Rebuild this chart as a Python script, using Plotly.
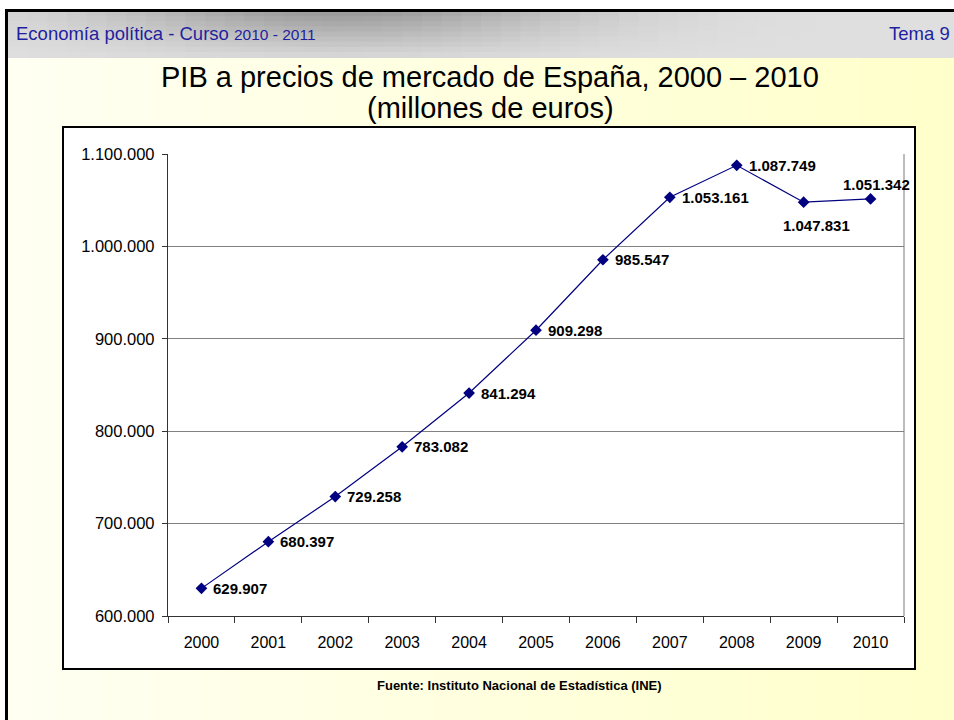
import math
import plotly.graph_objects as go

# ---------------- data ----------------
years = ["2000", "2001", "2002", "2003", "2004", "2005",
         "2006", "2007", "2008", "2009", "2010"]
pib = [629907, 680397, 729258, 783082, 841294, 909298,
       985547, 1053161, 1087749, 1047831, 1051342]
y_ticks = [600000, 700000, 800000, 900000, 1000000, 1100000]

title_1 = "PIB a precios de mercado de España, 2000 – 2010"
title_2 = "(millones de euros)"
header_left = "Economía política - Curso "
header_years = "2010 - 2011"
header_right = "Tema 9"
source = "Fuente: Instituto Nacional de Estadística (INE)"

# label placement style (right of point, except 2009 below and 2010 above)
label_place = ["right"] * 9 + ["below", "above"]

W, H = 954, 720
ML, MR, MT, MB = 168, 50, 154, 104
PW, PH = W - ML - MR, H - MT - MB
FONT = "Liberation Sans, Arial, sans-serif"


def fx(x):
    return (x - ML) / PW


def fy(y):
    return (H - MB - y) / PH


labels = [f"{v:,}".replace(",", ".") for v in pib]

fig = go.Figure()
fig.add_trace(go.Scatter(
    x=years, y=pib, mode="lines+markers",
    line=dict(color="#000080", width=1.2),
    marker=dict(symbol="diamond", size=9, color="#000080"),
    cliponaxis=False, hoverinfo="skip", showlegend=False,
))

shapes = []
# slide background gradient (light yellow)
n = 40
for i in range(n):
    x0 = 8 + (W - 8) * i / n
    x1 = 8 + (W - 8) * (i + 1) / n + 1
    t = i / (n - 1)
    b = int(242 - 38 * t)
    shapes.append(dict(type="rect", xref="paper", yref="paper", layer="below",
                       x0=fx(x0), x1=fx(x1), y0=fy(H), y1=fy(57),
                       fillcolor=f"rgb(255,255,{b})", line_width=0))
# header gradient (grey)
nx, ny = 48, 9
for i in range(nx):
    for j in range(ny):
        x0 = 8 + (W - 8) * i / nx
        x1 = 8 + (W - 8) * (i + 1) / nx + 1
        y0 = 11 + 46 * j / ny
        y1 = 11 + 46 * (j + 1) / ny + 1
        xc = (x0 + x1) / 2
        yc = (y0 + y1) / 2
        dark = 72 * math.exp(-((xc - 340) / 240) ** 2) * (1 - 0.9 * (yc - 11) / 46)
        c = int(224 - dark)
        shapes.append(dict(type="rect", xref="paper", yref="paper", layer="below",
                           x0=fx(x0), x1=fx(x1), y0=fy(y1), y1=fy(y0),
                           fillcolor=f"rgb({c},{c},{c})", line_width=0))
# black slide borders
shapes.append(dict(type="rect", xref="paper", yref="paper", layer="below",
                   x0=fx(5), x1=fx(W), y0=fy(12), y1=fy(9),
                   fillcolor="black", line_width=0))
shapes.append(dict(type="rect", xref="paper", yref="paper", layer="below",
                   x0=fx(5), x1=fx(8), y0=fy(H), y1=fy(9),
                   fillcolor="black", line_width=0))
# chart box
shapes.append(dict(type="rect", xref="paper", yref="paper", layer="below",
                   x0=fx(63), x1=fx(915), y0=fy(669), y1=fy(127),
                   fillcolor="white", line=dict(color="black", width=2)))
# plot area right border
shapes.append(dict(type="line", xref="x domain", yref="y domain", layer="below",
                   x0=1, x1=1, y0=0, y1=1,
                   line=dict(color="#a6a6a6", width=1.5)))

annotations = [
    dict(text=title_1, x=fx(490), y=fy(77), xref="paper", yref="paper",
         showarrow=False, xanchor="center", yanchor="middle",
         font=dict(family=FONT, size=29, color="black")),
    dict(text=title_2, x=fx(490), y=fy(108), xref="paper", yref="paper",
         showarrow=False, xanchor="center", yanchor="middle",
         font=dict(family=FONT, size=29, color="black")),
    dict(text=header_left + f"<span style='font-size:15.5px'>{header_years}</span>",
         x=fx(14), y=fy(34), xref="paper", yref="paper",
         showarrow=False, xanchor="left", yanchor="middle",
         font=dict(family=FONT, size=18.5, color="#1f1f9f")),
    dict(text=header_right, x=fx(952), y=fy(34), xref="paper", yref="paper",
         showarrow=False, xanchor="right", yanchor="middle",
         font=dict(family=FONT, size=18.5, color="#1f1f9f")),
    dict(text=source, x=fx(519), y=fy(685), xref="paper", yref="paper",
         showarrow=False, xanchor="center", yanchor="middle",
         font=dict(family=FONT, size=13, color="black", weight="bold")),
]

place_style = {
    "right": dict(xanchor="left", yanchor="middle", xshift=10, yshift=0),
    "below": dict(xanchor="center", yanchor="middle", xshift=13, yshift=-23),
    "above": dict(xanchor="center", yanchor="middle", xshift=6, yshift=14),
}
# category axis: annotations use the category index
for idx, (v, lab, pl) in enumerate(zip(pib, labels, label_place)):
    annotations.append(dict(
        x=idx, y=v, xref="x", yref="y", text=lab, showarrow=False,
        font=dict(family=FONT, size=15, color="black", weight="bold"),
        **place_style[pl]))

fig.update_layout(
    width=W, height=H, autosize=False,
    margin=dict(l=ML, r=MR, t=MT, b=MB, pad=0),
    paper_bgcolor="white", plot_bgcolor="rgba(0,0,0,0)",
    separators=",.",
    shapes=shapes, annotations=annotations,
    font=dict(family=FONT, color="black"),
    xaxis=dict(type="category", range=[-0.5, 10.5], tickson="boundaries",
               ticks="outside", ticklen=6, tickcolor="#333333", tickwidth=1.3,
               showline=True, linecolor="#333333", linewidth=1.3,
               showgrid=False, zeroline=False, ticklabelstandoff=12,
               tickfont=dict(family=FONT, size=16, color="black")),
    yaxis=dict(range=[600000, 1100000], tickvals=y_ticks, tickformat=",d",
               ticks="outside", ticklen=5, tickcolor="#333333", tickwidth=1.3,
               showline=True, linecolor="#333333", linewidth=1.3,
               showgrid=True, gridcolor="#808080", gridwidth=1,
               zeroline=False, ticklabelstandoff=4,
               tickfont=dict(family=FONT, size=16.5, color="black")),
    hovermode=False,
)

fig.write_html(
    "out.html",
    config={"displayModeBar": False},
    post_script="document.body.style.margin='0';"
                "document.body.style.overflow='hidden';",
)
